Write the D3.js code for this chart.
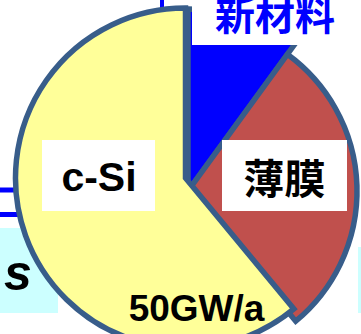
<!DOCTYPE html>
<html>
<head>
<meta charset="utf-8">
<script src="https://cdn.jsdelivr.net/npm/d3@7"></script>
<style>
  html, body { margin: 0; padding: 0; background: #ffffff; }
  svg { display: block; }
</style>
</head>
<body>
<div id="chart"></div>
<script>
// Module production share, by technology
const categories = ["新材料", "薄膜", "c-Si"];
const shares = [10, 29, 61];
const totalLabel = "50GW/a";

// Slice styling and placement (per category)
const sliceFill = ["#0000ff", "#c0504d", "#ffff99"];
const sliceCenter = [[188, 191], [188, 191], [185.5, 178]];
const sliceRadius = [182, 169, 170];
const outline = "#385d8a";

const W = 361, H = 334;
const svg = d3.select("#chart").append("svg")
  .attr("width", W).attr("height", H)
  .attr("viewBox", `0 0 ${W} ${H}`);

svg.append("rect").attr("width", W).attr("height", H).attr("fill", "#fff");

// Surrounding slide elements peeking in at the edges
const deco = svg.append("g");
deco.append("rect").attr("x", 0).attr("y", 228).attr("width", 58).attr("height", 85).attr("fill", "#ccffff");
deco.append("rect").attr("x", 358).attr("y", 247).attr("width", 6).attr("height", 66).attr("fill", "#ccffff");
deco.append("line").attr("x1", 0).attr("x2", 40).attr("y1", 190).attr("y2", 190)
  .attr("stroke", "#0000ff").attr("stroke-width", 5);
deco.append("line").attr("x1", 0).attr("x2", 40).attr("y1", 214.5).attr("y2", 214.5)
  .attr("stroke", "#0000ff").attr("stroke-width", 5);
deco.append("line").attr("x1", 162).attr("x2", 162).attr("y1", -5).attr("y2", 30)
  .attr("stroke", "#0000ff").attr("stroke-width", 4);
deco.append("text").attr("x", 4).attr("y", 290)
  .attr("font-family", "Liberation Sans, Arial, sans-serif")
  .attr("font-weight", "bold").attr("font-style", "italic")
  .attr("font-size", 50).attr("fill", "#000").text("s");

// Pie
const pie = d3.pie().sort(null).value(d => d).startAngle(0).endAngle(2 * Math.PI);
const arcs = pie(shares);

svg.append("g").selectAll("path")
  .data(arcs)
  .join("path")
  .attr("transform", (d, i) => `translate(${sliceCenter[i][0]},${sliceCenter[i][1]})`)
  .attr("d", (d, i) => d3.arc().innerRadius(0).outerRadius(sliceRadius[i])(d))
  .attr("fill", (d, i) => sliceFill[i])
  .attr("stroke", outline)
  .attr("stroke-width", 5.5)
  .attr("stroke-linejoin", "miter");

// Category labels on white plates
const labelFont = "Liberation Sans, Arial, sans-serif";
const cjkFont = "Noto Sans CJK JP, Noto Sans CJK SC, sans-serif";
const labels = svg.append("g");

// 新材料 (title plate above the blue slice)
labels.append("rect").attr("x", 192).attr("y", -5).attr("width", 165).attr("height", 50).attr("fill", "#fff");
labels.append("text").attr("x", 275).attr("y", 13)
  .attr("text-anchor", "middle").attr("dominant-baseline", "central")
  .attr("font-family", cjkFont).attr("font-weight", "bold")
  .attr("font-size", 40).attr("fill", "#0000ff").text(categories[0]);

// 薄膜
labels.append("rect").attr("x", 222).attr("y", 140).attr("width", 125).attr("height", 71).attr("fill", "#fff");
labels.append("text").attr("x", 284.5).attr("y", 176)
  .attr("text-anchor", "middle").attr("dominant-baseline", "central")
  .attr("font-family", cjkFont).attr("font-weight", "bold")
  .attr("font-size", 41).attr("fill", "#000").text(categories[1]);

// c-Si
labels.append("rect").attr("x", 42).attr("y", 140).attr("width", 113).attr("height", 71).attr("fill", "#fff");
labels.append("text").attr("x", 99).attr("y", 191)
  .attr("text-anchor", "middle")
  .attr("font-family", labelFont).attr("font-weight", "bold")
  .attr("font-size", 41).attr("fill", "#000").text(categories[2]);

// Annual volume
svg.append("text").attr("x", 196.5).attr("y", 321)
  .attr("text-anchor", "middle")
  .attr("font-family", labelFont).attr("font-weight", "bold")
  .attr("font-size", 37).attr("fill", "#000").text(totalLabel);
</script>
</body>
</html>
